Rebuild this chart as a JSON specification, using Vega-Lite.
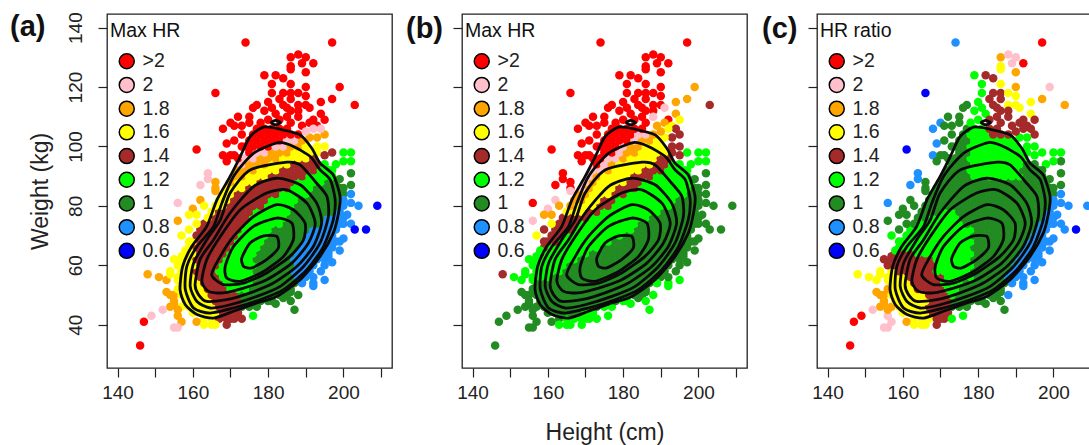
{"$schema":"https://vega.github.io/schema/vega-lite/v6.json","background":"white","padding":{"left":9,"top":11,"right":0,"bottom":0},"bounds":"flush","spacing":70,
"config":{"font":"Liberation Sans","view":{"stroke":"#222","strokeWidth":1.3},
"axis":{"domain":false,"grid":false,"tickColor":"#222","tickSize":9,"tickWidth":1.2,"labelColor":"#222","labelFontSize":19,"labelFont":"Liberation Sans","titleFont":"Liberation Sans","titleFontWeight":"normal","titleFontSize":23,"titleColor":"#222"},
"legend":{"orient":"none","legendX":3,"legendY":8,"padding":0,"titleFontSize":19.5,"titleFontWeight":"normal","titleColor":"#111","labelFontSize":19.5,"labelColor":"#222","titlePadding":10,"rowPadding":1.7,"symbolSize":225,"symbolType":"circle","symbolStrokeColor":"black","symbolStrokeWidth":1.5,"symbolOpacity":1,"symbolOffset":7,"labelOffset":6},
"title":{"font":"Liberation Sans","fontSize":29,"fontWeight":"bold","color":"#111","anchor":"start","frame":"group","baseline":"alphabetic","offset":0}},
"datasets":{"pts":[
{"h":163,"w":42,"a":"1.6","b":"1","c":"1.6"},{"h":165,"w":42,"a":"1.6","b":"1.2","c":"1.6"},{"h":167,"w":42,"a":"1.4","b":"1.2","c":"1.6"},{"h":169,"w":42,"a":"1.4","b":"1.2","c":"1.4"},{"h":171,"w":42,"a":"1.4","b":"1.2","c":"1.4"},
{"h":160,"w":44,"a":"1.6","b":"1","c":"1.6"},{"h":162,"w":44,"a":"1.6","b":"1","c":"1.6"},{"h":164,"w":44,"a":"1.6","b":"1","c":"1.6"},{"h":166,"w":44,"a":"1.6","b":"1","c":"1.6"},{"h":168,"w":44,"a":"1.4","b":"1","c":"1.4"},{"h":170,"w":44,"a":"1.4","b":"1.2","c":"1.4"},{"h":172,"w":44,"a":"1.4","b":"1.2","c":"1.4"},
{"h":157,"w":46,"a":"1.6","b":"1","c":"1.8"},{"h":159,"w":46,"a":"1.6","b":"1","c":"1.6"},{"h":161,"w":46,"a":"1.6","b":"1","c":"1.6"},{"h":163,"w":46,"a":"1.6","b":"1","c":"1.6"},{"h":165,"w":46,"a":"1.6","b":"1","c":"1.6"},{"h":167,"w":46,"a":"1.4","b":"1","c":"1.4"},{"h":169,"w":46,"a":"1.4","b":"1","c":"1.4"},{"h":171,"w":46,"a":"1.4","b":"1","c":"1.4"},{"h":173,"w":46,"a":"1","b":"1","c":"1"},{"h":175,"w":46,"a":"1","b":"1.2","c":"1"},{"h":177,"w":46,"a":"1","b":"1.2","c":"1"},
{"h":158,"w":48,"a":"1.6","b":"1","c":"1.6"},{"h":160,"w":48,"a":"1.6","b":"1","c":"1.6"},{"h":162,"w":48,"a":"1.6","b":"1","c":"1.6"},{"h":164,"w":48,"a":"1.6","b":"1","c":"1.6"},{"h":166,"w":48,"a":"1.4","b":"1","c":"1.6"},{"h":168,"w":48,"a":"1.4","b":"1","c":"1.4"},{"h":170,"w":48,"a":"1.4","b":"1","c":"1.4"},{"h":172,"w":48,"a":"1.4","b":"1","c":"1.4"},{"h":174,"w":48,"a":"1","b":"1","c":"1"},{"h":176,"w":48,"a":"1","b":"1","c":"1"},{"h":178,"w":48,"a":"1","b":"1","c":"1"},{"h":180,"w":48,"a":"1","b":"1.2","c":"1"},
{"h":155,"w":50,"a":"1.8","b":"1","c":"1.8"},{"h":157,"w":50,"a":"1.6","b":"1","c":"1.6"},{"h":159,"w":50,"a":"1.6","b":"1","c":"1.6"},{"h":161,"w":50,"a":"1.6","b":"1","c":"1.6"},{"h":163,"w":50,"a":"1.6","b":"1","c":"1.6"},{"h":165,"w":50,"a":"1.4","b":"1","c":"1.6"},{"h":167,"w":50,"a":"1.4","b":"1","c":"1.4"},{"h":169,"w":50,"a":"1.4","b":"1","c":"1.4"},{"h":171,"w":50,"a":"1.4","b":"1","c":"1.4"},{"h":173,"w":50,"a":"1","b":"1","c":"1.2"},{"h":175,"w":50,"a":"1","b":"1","c":"1"},{"h":177,"w":50,"a":"1","b":"1","c":"1"},{"h":179,"w":50,"a":"1","b":"1","c":"1"},{"h":181,"w":50,"a":"1","b":"1","c":"1"},{"h":183,"w":50,"a":"1","b":"1","c":"1"},{"h":185,"w":50,"a":"1","b":"1","c":"1"},
{"h":156,"w":52,"a":"1.6","b":"1","c":"1.8"},{"h":158,"w":52,"a":"1.6","b":"1","c":"1.6"},{"h":160,"w":52,"a":"1.6","b":"1","c":"1.6"},{"h":162,"w":52,"a":"1.6","b":"1","c":"1.6"},{"h":164,"w":52,"a":"1.4","b":"1","c":"1.4"},{"h":166,"w":52,"a":"1.4","b":"1","c":"1.4"},{"h":168,"w":52,"a":"1.4","b":"1","c":"1.4"},{"h":170,"w":52,"a":"1.2","b":"1","c":"1.4"},{"h":172,"w":52,"a":"1.2","b":"1","c":"1.2"},{"h":174,"w":52,"a":"1.2","b":"1","c":"1.2"},{"h":176,"w":52,"a":"1","b":"1","c":"1"},{"h":178,"w":52,"a":"1","b":"1","c":"1"},{"h":180,"w":52,"a":"1","b":"1","c":"1"},{"h":182,"w":52,"a":"1","b":"1","c":"1"},{"h":184,"w":52,"a":"1","b":"1","c":"1"},{"h":186,"w":52,"a":"1","b":"1","c":"1"},
{"h":157,"w":54,"a":"1.6","b":"1","c":"1.6"},{"h":159,"w":54,"a":"1.6","b":"1","c":"1.6"},{"h":161,"w":54,"a":"1.6","b":"1","c":"1.6"},{"h":163,"w":54,"a":"1.4","b":"1","c":"1.4"},{"h":165,"w":54,"a":"1.4","b":"1","c":"1.4"},{"h":167,"w":54,"a":"1.4","b":"1","c":"1.4"},{"h":169,"w":54,"a":"1.2","b":"1","c":"1.4"},{"h":171,"w":54,"a":"1.2","b":"1","c":"1.2"},{"h":173,"w":54,"a":"1.2","b":"1","c":"1.2"},{"h":175,"w":54,"a":"1.2","b":"1","c":"1.2"},{"h":177,"w":54,"a":"1","b":"1","c":"1"},{"h":179,"w":54,"a":"1","b":"1","c":"1"},{"h":181,"w":54,"a":"1","b":"1","c":"1"},{"h":183,"w":54,"a":"1","b":"1","c":"1"},{"h":185,"w":54,"a":"1","b":"1","c":"1"},{"h":187,"w":54,"a":"1","b":"1","c":"1"},{"h":189,"w":54,"a":"0.8","b":"1","c":"0.8"},
{"h":156,"w":56,"a":"1.6","b":"1.2","c":"1.6"},{"h":158,"w":56,"a":"1.6","b":"1.2","c":"1.6"},{"h":160,"w":56,"a":"1.6","b":"1.2","c":"1.6"},{"h":162,"w":56,"a":"1.4","b":"1","c":"1.4"},{"h":164,"w":56,"a":"1.4","b":"1","c":"1.4"},{"h":166,"w":56,"a":"1.4","b":"1","c":"1.4"},{"h":168,"w":56,"a":"1.2","b":"1","c":"1.4"},{"h":170,"w":56,"a":"1.2","b":"1","c":"1.4"},{"h":172,"w":56,"a":"1.2","b":"1","c":"1.2"},{"h":174,"w":56,"a":"1.2","b":"1","c":"1.2"},{"h":176,"w":56,"a":"1.2","b":"1","c":"1.2"},{"h":178,"w":56,"a":"1","b":"1","c":"1.2"},{"h":180,"w":56,"a":"1","b":"1","c":"1"},{"h":182,"w":56,"a":"1","b":"1","c":"1"},{"h":184,"w":56,"a":"1","b":"1","c":"1"},{"h":186,"w":56,"a":"1","b":"1","c":"1"},{"h":188,"w":56,"a":"0.8","b":"1","c":"0.8"},{"h":190,"w":56,"a":"0.8","b":"1","c":"0.8"},
{"h":157,"w":58,"a":"1.6","b":"1.2","c":"1.6"},{"h":159,"w":58,"a":"1.6","b":"1.2","c":"1.4"},{"h":161,"w":58,"a":"1.4","b":"1.2","c":"1.4"},{"h":163,"w":58,"a":"1.4","b":"1.2","c":"1.4"},{"h":165,"w":58,"a":"1.4","b":"1","c":"1.4"},{"h":167,"w":58,"a":"1.2","b":"1","c":"1.4"},{"h":169,"w":58,"a":"1.2","b":"1","c":"1.2"},{"h":171,"w":58,"a":"1.2","b":"1","c":"1.2"},{"h":173,"w":58,"a":"1.2","b":"1","c":"1.2"},{"h":175,"w":58,"a":"1.2","b":"1","c":"1.2"},{"h":177,"w":58,"a":"1","b":"1","c":"1.2"},{"h":179,"w":58,"a":"1","b":"1","c":"1"},{"h":181,"w":58,"a":"1","b":"1","c":"1"},{"h":183,"w":58,"a":"1","b":"1","c":"1"},{"h":185,"w":58,"a":"1","b":"1","c":"1"},{"h":187,"w":58,"a":"0.8","b":"1","c":"1"},{"h":189,"w":58,"a":"0.8","b":"1","c":"0.8"},{"h":191,"w":58,"a":"0.8","b":"1","c":"0.8"},
{"h":156,"w":60,"a":"1.6","b":"1.2","c":"1.4"},{"h":158,"w":60,"a":"1.6","b":"1.2","c":"1.4"},{"h":160,"w":60,"a":"1.6","b":"1.2","c":"1.4"},{"h":162,"w":60,"a":"1.4","b":"1.2","c":"1.4"},{"h":164,"w":60,"a":"1.4","b":"1.2","c":"1.4"},{"h":166,"w":60,"a":"1.4","b":"1","c":"1.4"},{"h":168,"w":60,"a":"1.2","b":"1","c":"1.4"},{"h":170,"w":60,"a":"1.2","b":"1","c":"1.2"},{"h":172,"w":60,"a":"1.2","b":"1","c":"1.2"},{"h":174,"w":60,"a":"1.2","b":"1","c":"1.2"},{"h":176,"w":60,"a":"1.2","b":"1","c":"1.2"},{"h":178,"w":60,"a":"1","b":"1","c":"1.2"},{"h":180,"w":60,"a":"1","b":"1","c":"1"},{"h":182,"w":60,"a":"1","b":"1","c":"1"},{"h":184,"w":60,"a":"1","b":"1","c":"1"},{"h":186,"w":60,"a":"1","b":"1","c":"1"},{"h":188,"w":60,"a":"0.8","b":"1","c":"1"},{"h":190,"w":60,"a":"0.8","b":"1","c":"0.8"},{"h":192,"w":60,"a":"0.8","b":"1","c":"0.8"},
{"h":157,"w":62,"a":"1.6","b":"1.2","c":"1.4"},{"h":159,"w":62,"a":"1.6","b":"1.2","c":"1.4"},{"h":161,"w":62,"a":"1.4","b":"1.2","c":"1.4"},{"h":163,"w":62,"a":"1.4","b":"1.2","c":"1.4"},{"h":165,"w":62,"a":"1.4","b":"1.2","c":"1.4"},{"h":167,"w":62,"a":"1.4","b":"1.2","c":"1.4"},{"h":169,"w":62,"a":"1.2","b":"1","c":"1.2"},{"h":171,"w":62,"a":"1.2","b":"1","c":"1.2"},{"h":173,"w":62,"a":"1.2","b":"1","c":"1.2"},{"h":175,"w":62,"a":"1.2","b":"1","c":"1.2"},{"h":177,"w":62,"a":"1","b":"1","c":"1.2"},{"h":179,"w":62,"a":"1","b":"1","c":"1"},{"h":181,"w":62,"a":"1","b":"1","c":"1"},{"h":183,"w":62,"a":"1","b":"1","c":"1"},{"h":185,"w":62,"a":"1","b":"1","c":"1"},{"h":187,"w":62,"a":"0.8","b":"1","c":"1"},{"h":189,"w":62,"a":"0.8","b":"1","c":"1"},{"h":191,"w":62,"a":"0.8","b":"1","c":"0.8"},{"h":193,"w":62,"a":"0.8","b":"1","c":"0.8"},{"h":195,"w":62,"a":"0.8","b":"1","c":"0.8"},
{"h":158,"w":64,"a":"1.6","b":"1.4","c":"1.4"},{"h":160,"w":64,"a":"1.6","b":"1.2","c":"1.4"},{"h":162,"w":64,"a":"1.4","b":"1.2","c":"1.4"},{"h":164,"w":64,"a":"1.4","b":"1.2","c":"1.2"},{"h":166,"w":64,"a":"1.4","b":"1.2","c":"1.2"},{"h":168,"w":64,"a":"1.4","b":"1.2","c":"1.2"},{"h":170,"w":64,"a":"1.2","b":"1.2","c":"1.2"},{"h":172,"w":64,"a":"1.2","b":"1","c":"1.2"},{"h":174,"w":64,"a":"1.2","b":"1","c":"1.2"},{"h":176,"w":64,"a":"1.2","b":"1","c":"1.2"},{"h":178,"w":64,"a":"1","b":"1","c":"1.2"},{"h":180,"w":64,"a":"1","b":"1","c":"1"},{"h":182,"w":64,"a":"1","b":"1","c":"1"},{"h":184,"w":64,"a":"1","b":"1","c":"1"},{"h":186,"w":64,"a":"1","b":"1","c":"1"},{"h":188,"w":64,"a":"0.8","b":"1","c":"1"},{"h":190,"w":64,"a":"0.8","b":"1","c":"1"},{"h":192,"w":64,"a":"0.8","b":"1","c":"0.8"},{"h":194,"w":64,"a":"0.8","b":"1","c":"0.8"},{"h":196,"w":64,"a":"0.8","b":"1","c":"0.8"},
{"h":159,"w":66,"a":"1.6","b":"1.4","c":"1.2"},{"h":161,"w":66,"a":"1.4","b":"1.2","c":"1.2"},{"h":163,"w":66,"a":"1.4","b":"1.2","c":"1.2"},{"h":165,"w":66,"a":"1.4","b":"1.2","c":"1.2"},{"h":167,"w":66,"a":"1.4","b":"1.2","c":"1.2"},{"h":169,"w":66,"a":"1.4","b":"1.2","c":"1.2"},{"h":171,"w":66,"a":"1.2","b":"1.2","c":"1.2"},{"h":173,"w":66,"a":"1.2","b":"1.2","c":"1.2"},{"h":175,"w":66,"a":"1.2","b":"1","c":"1.2"},{"h":177,"w":66,"a":"1.2","b":"1","c":"1.2"},{"h":179,"w":66,"a":"1","b":"1","c":"1"},{"h":181,"w":66,"a":"1","b":"1","c":"1"},{"h":183,"w":66,"a":"1","b":"1","c":"1"},{"h":185,"w":66,"a":"1","b":"1","c":"1"},{"h":187,"w":66,"a":"1","b":"1","c":"1"},{"h":189,"w":66,"a":"0.8","b":"1","c":"1"},{"h":191,"w":66,"a":"0.8","b":"1","c":"1"},{"h":193,"w":66,"a":"0.8","b":"1","c":"0.8"},{"h":195,"w":66,"a":"0.8","b":"1","c":"0.8"},{"h":197,"w":66,"a":"0.8","b":"1","c":"0.8"},
{"h":160,"w":68,"a":"1.6","b":"1.4","c":"1.2"},{"h":162,"w":68,"a":"1.4","b":"1.4","c":"1.2"},{"h":164,"w":68,"a":"1.4","b":"1.2","c":"1.2"},{"h":166,"w":68,"a":"1.4","b":"1.2","c":"1.2"},{"h":168,"w":68,"a":"1.4","b":"1.2","c":"1.2"},{"h":170,"w":68,"a":"1.4","b":"1.2","c":"1.2"},{"h":172,"w":68,"a":"1.2","b":"1.2","c":"1.2"},{"h":174,"w":68,"a":"1.2","b":"1.2","c":"1.2"},{"h":176,"w":68,"a":"1.2","b":"1.2","c":"1.2"},{"h":178,"w":68,"a":"1.2","b":"1","c":"1.2"},{"h":180,"w":68,"a":"1","b":"1","c":"1"},{"h":182,"w":68,"a":"1","b":"1","c":"1"},{"h":184,"w":68,"a":"1","b":"1","c":"1"},{"h":186,"w":68,"a":"1","b":"1","c":"1"},{"h":188,"w":68,"a":"1","b":"1","c":"1"},{"h":190,"w":68,"a":"0.8","b":"1","c":"1"},{"h":192,"w":68,"a":"0.8","b":"1","c":"1"},{"h":194,"w":68,"a":"0.8","b":"1","c":"0.8"},{"h":196,"w":68,"a":"0.8","b":"1","c":"0.8"},{"h":198,"w":68,"a":"0.8","b":"1","c":"0.8"},
{"h":161,"w":70,"a":"1.4","b":"1.4","c":"1.2"},{"h":163,"w":70,"a":"1.4","b":"1.4","c":"1.2"},{"h":165,"w":70,"a":"1.4","b":"1.2","c":"1.2"},{"h":167,"w":70,"a":"1.4","b":"1.2","c":"1.2"},{"h":169,"w":70,"a":"1.4","b":"1.2","c":"1.2"},{"h":171,"w":70,"a":"1.4","b":"1.2","c":"1.2"},{"h":173,"w":70,"a":"1.2","b":"1.2","c":"1.2"},{"h":175,"w":70,"a":"1.2","b":"1.2","c":"1.2"},{"h":177,"w":70,"a":"1.2","b":"1.2","c":"1.2"},{"h":179,"w":70,"a":"1.2","b":"1.2","c":"1"},{"h":181,"w":70,"a":"1","b":"1","c":"1"},{"h":183,"w":70,"a":"1","b":"1","c":"1"},{"h":185,"w":70,"a":"1","b":"1","c":"1"},{"h":187,"w":70,"a":"1","b":"1","c":"1"},{"h":189,"w":70,"a":"1","b":"1","c":"1"},{"h":191,"w":70,"a":"0.8","b":"1","c":"1"},{"h":193,"w":70,"a":"0.8","b":"1","c":"1"},{"h":195,"w":70,"a":"0.8","b":"1","c":"0.8"},{"h":197,"w":70,"a":"0.8","b":"1","c":"0.8"},
{"h":162,"w":72,"a":"1.4","b":"1.4","c":"1.2"},{"h":164,"w":72,"a":"1.4","b":"1.4","c":"1.2"},{"h":166,"w":72,"a":"1.4","b":"1.4","c":"1.2"},{"h":168,"w":72,"a":"1.4","b":"1.2","c":"1.2"},{"h":170,"w":72,"a":"1.4","b":"1.2","c":"1.2"},{"h":172,"w":72,"a":"1.4","b":"1.2","c":"1.2"},{"h":174,"w":72,"a":"1.2","b":"1.2","c":"1.2"},{"h":176,"w":72,"a":"1.2","b":"1.2","c":"1.2"},{"h":178,"w":72,"a":"1.2","b":"1.2","c":"1.2"},{"h":180,"w":72,"a":"1.2","b":"1.2","c":"1"},{"h":182,"w":72,"a":"1","b":"1.2","c":"1"},{"h":184,"w":72,"a":"1","b":"1","c":"1"},{"h":186,"w":72,"a":"1","b":"1","c":"1"},{"h":188,"w":72,"a":"1","b":"1","c":"1"},{"h":190,"w":72,"a":"1","b":"1","c":"1"},{"h":192,"w":72,"a":"0.8","b":"1","c":"1"},{"h":194,"w":72,"a":"0.8","b":"1","c":"1"},{"h":196,"w":72,"a":"0.8","b":"1","c":"0.8"},{"h":198,"w":72,"a":"0.8","b":"1","c":"0.8"},
{"h":163,"w":74,"a":"1.4","b":"1.4","c":"1"},{"h":165,"w":74,"a":"1.4","b":"1.4","c":"1.2"},{"h":167,"w":74,"a":"1.4","b":"1.4","c":"1.2"},{"h":169,"w":74,"a":"1.4","b":"1.2","c":"1.2"},{"h":171,"w":74,"a":"1.4","b":"1.2","c":"1.2"},{"h":173,"w":74,"a":"1.4","b":"1.2","c":"1.2"},{"h":175,"w":74,"a":"1.2","b":"1.2","c":"1.2"},{"h":177,"w":74,"a":"1.2","b":"1.2","c":"1"},{"h":179,"w":74,"a":"1.2","b":"1.2","c":"1"},{"h":181,"w":74,"a":"1.2","b":"1.2","c":"1"},{"h":183,"w":74,"a":"1.2","b":"1.2","c":"1"},{"h":185,"w":74,"a":"1","b":"1","c":"1"},{"h":187,"w":74,"a":"1","b":"1","c":"1"},{"h":189,"w":74,"a":"1","b":"1","c":"1"},{"h":191,"w":74,"a":"1","b":"1","c":"1"},{"h":193,"w":74,"a":"1","b":"1","c":"1"},{"h":195,"w":74,"a":"0.8","b":"1","c":"1"},{"h":197,"w":74,"a":"0.8","b":"1","c":"0.8"},{"h":199,"w":74,"a":"0.8","b":"1","c":"0.8"},
{"h":164,"w":76,"a":"1.6","b":"1.4","c":"1"},{"h":166,"w":76,"a":"1.4","b":"1.4","c":"1"},{"h":168,"w":76,"a":"1.4","b":"1.4","c":"1.2"},{"h":170,"w":76,"a":"1.4","b":"1.4","c":"1.2"},{"h":172,"w":76,"a":"1.4","b":"1.2","c":"1.2"},{"h":174,"w":76,"a":"1.4","b":"1.2","c":"1.2"},{"h":176,"w":76,"a":"1.2","b":"1.2","c":"1"},{"h":178,"w":76,"a":"1.2","b":"1.2","c":"1"},{"h":180,"w":76,"a":"1.2","b":"1.2","c":"1"},{"h":182,"w":76,"a":"1.2","b":"1.2","c":"1"},{"h":184,"w":76,"a":"1.2","b":"1.2","c":"1"},{"h":186,"w":76,"a":"1","b":"1.2","c":"1"},{"h":188,"w":76,"a":"1","b":"1","c":"1"},{"h":190,"w":76,"a":"1","b":"1","c":"1"},{"h":192,"w":76,"a":"1","b":"1","c":"1"},{"h":194,"w":76,"a":"1","b":"1","c":"1"},{"h":196,"w":76,"a":"0.8","b":"1","c":"1"},{"h":198,"w":76,"a":"0.8","b":"1","c":"0.8"},{"h":200,"w":76,"a":"0.8","b":"1","c":"0.8"},
{"h":165,"w":78,"a":"1.6","b":"1.6","c":"1"},{"h":167,"w":78,"a":"1.4","b":"1.6","c":"1"},{"h":169,"w":78,"a":"1.4","b":"1.6","c":"1"},{"h":171,"w":78,"a":"1.4","b":"1.4","c":"1.2"},{"h":173,"w":78,"a":"1.4","b":"1.4","c":"1.2"},{"h":175,"w":78,"a":"1.4","b":"1.2","c":"1"},{"h":177,"w":78,"a":"1.2","b":"1.2","c":"1"},{"h":179,"w":78,"a":"1.2","b":"1.2","c":"1"},{"h":181,"w":78,"a":"1.2","b":"1.2","c":"1"},{"h":183,"w":78,"a":"1.2","b":"1.2","c":"1"},{"h":185,"w":78,"a":"1.2","b":"1.2","c":"1"},{"h":187,"w":78,"a":"1","b":"1.2","c":"1"},{"h":189,"w":78,"a":"1","b":"1.2","c":"1"},{"h":191,"w":78,"a":"1","b":"1","c":"1"},{"h":193,"w":78,"a":"1","b":"1","c":"1"},{"h":195,"w":78,"a":"1","b":"1","c":"1"},{"h":197,"w":78,"a":"1","b":"1","c":"1"},{"h":199,"w":78,"a":"0.8","b":"1","c":"0.8"},
{"h":166,"w":80,"a":"1.6","b":"1.8","c":"1"},{"h":168,"w":80,"a":"1.6","b":"1.6","c":"1"},{"h":170,"w":80,"a":"1.4","b":"1.6","c":"1"},{"h":172,"w":80,"a":"1.4","b":"1.6","c":"1"},{"h":174,"w":80,"a":"1.4","b":"1.4","c":"1"},{"h":176,"w":80,"a":"1.4","b":"1.4","c":"1"},{"h":178,"w":80,"a":"1.4","b":"1.2","c":"1"},{"h":180,"w":80,"a":"1.2","b":"1.2","c":"1"},{"h":182,"w":80,"a":"1.2","b":"1.2","c":"1"},{"h":184,"w":80,"a":"1.2","b":"1.2","c":"1"},{"h":186,"w":80,"a":"1.2","b":"1.2","c":"1"},{"h":188,"w":80,"a":"1","b":"1.2","c":"1"},{"h":190,"w":80,"a":"1","b":"1.2","c":"1"},{"h":192,"w":80,"a":"1","b":"1.2","c":"1"},{"h":194,"w":80,"a":"1","b":"1","c":"1"},{"h":196,"w":80,"a":"1","b":"1","c":"1"},{"h":198,"w":80,"a":"1","b":"1","c":"1"},{"h":200,"w":80,"a":"0.8","b":"1","c":"0.8"},
{"h":167,"w":82,"a":"1.6","b":"1.8","c":"1"},{"h":169,"w":82,"a":"1.6","b":"1.8","c":"1"},{"h":171,"w":82,"a":"1.4","b":"1.6","c":"1"},{"h":173,"w":82,"a":"1.4","b":"1.6","c":"1"},{"h":175,"w":82,"a":"1.4","b":"1.4","c":"1"},{"h":177,"w":82,"a":"1.4","b":"1.4","c":"1"},{"h":179,"w":82,"a":"1.4","b":"1.2","c":"1"},{"h":181,"w":82,"a":"1.2","b":"1.2","c":"1"},{"h":183,"w":82,"a":"1.2","b":"1.2","c":"1"},{"h":185,"w":82,"a":"1.2","b":"1.2","c":"1"},{"h":187,"w":82,"a":"1.2","b":"1.2","c":"1"},{"h":189,"w":82,"a":"1","b":"1.2","c":"1"},{"h":191,"w":82,"a":"1","b":"1.2","c":"1"},{"h":193,"w":82,"a":"1","b":"1.2","c":"1"},{"h":195,"w":82,"a":"1","b":"1","c":"1"},{"h":197,"w":82,"a":"1","b":"1","c":"1"},{"h":199,"w":82,"a":"1","b":"1","c":"1"},
{"h":168,"w":84,"a":"1.6","b":"1.8","c":"1"},{"h":170,"w":84,"a":"1.6","b":"1.8","c":"1"},{"h":172,"w":84,"a":"1.4","b":"1.6","c":"1"},{"h":174,"w":84,"a":"1.4","b":"1.6","c":"1"},{"h":176,"w":84,"a":"1.4","b":"1.6","c":"1"},{"h":178,"w":84,"a":"1.4","b":"1.4","c":"1"},{"h":180,"w":84,"a":"1.4","b":"1.4","c":"1"},{"h":182,"w":84,"a":"1.4","b":"1.2","c":"1"},{"h":184,"w":84,"a":"1.2","b":"1.2","c":"1"},{"h":186,"w":84,"a":"1.2","b":"1.2","c":"1"},{"h":188,"w":84,"a":"1.2","b":"1.2","c":"1"},{"h":190,"w":84,"a":"1.2","b":"1.2","c":"1"},{"h":192,"w":84,"a":"1","b":"1.2","c":"1"},{"h":194,"w":84,"a":"1","b":"1.2","c":"1"},{"h":196,"w":84,"a":"1","b":"1.2","c":"1"},{"h":198,"w":84,"a":"1","b":"1","c":"1"},{"h":200,"w":84,"a":"1","b":"1","c":"1"},
{"h":169,"w":86,"a":"1.6","b":"2","c":"1"},{"h":171,"w":86,"a":"1.6","b":"1.8","c":"1"},{"h":173,"w":86,"a":"1.6","b":"1.6","c":"1"},{"h":175,"w":86,"a":"1.4","b":"1.6","c":"1"},{"h":177,"w":86,"a":"1.4","b":"1.6","c":"1"},{"h":179,"w":86,"a":"1.4","b":"1.4","c":"1"},{"h":181,"w":86,"a":"1.4","b":"1.4","c":"1"},{"h":183,"w":86,"a":"1.4","b":"1.4","c":"1"},{"h":185,"w":86,"a":"1.4","b":"1.2","c":"1"},{"h":187,"w":86,"a":"1.2","b":"1.2","c":"1"},{"h":189,"w":86,"a":"1.2","b":"1.2","c":"1"},{"h":191,"w":86,"a":"1.2","b":"1.2","c":"1"},{"h":193,"w":86,"a":"1","b":"1.2","c":"1"},{"h":195,"w":86,"a":"1","b":"1.2","c":"1"},{"h":197,"w":86,"a":"1","b":"1.2","c":"1"},{"h":199,"w":86,"a":"1","b":"1","c":"1"},
{"h":170,"w":88,"a":"1.8","b":"2","c":"1"},{"h":172,"w":88,"a":"1.6","b":"1.8","c":"1"},{"h":174,"w":88,"a":"1.6","b":"1.6","c":"1"},{"h":176,"w":88,"a":"1.6","b":"1.6","c":"1"},{"h":178,"w":88,"a":"1.4","b":"1.6","c":"1"},{"h":180,"w":88,"a":"1.4","b":"1.6","c":"1"},{"h":182,"w":88,"a":"1.4","b":"1.4","c":"1"},{"h":184,"w":88,"a":"1.4","b":"1.4","c":"1"},{"h":186,"w":88,"a":"1.4","b":"1.2","c":"1"},{"h":188,"w":88,"a":"1.2","b":"1.2","c":"1"},{"h":190,"w":88,"a":"1.2","b":"1.2","c":"1"},{"h":192,"w":88,"a":"1.2","b":"1.2","c":"1"},{"h":194,"w":88,"a":"1.2","b":"1.2","c":"1"},{"h":196,"w":88,"a":"1","b":"1.2","c":"1"},{"h":198,"w":88,"a":"1","b":"1.2","c":"1"},
{"h":171,"w":90,"a":"1.8","b":"2","c":"1"},{"h":173,"w":90,"a":"1.8","b":"1.8","c":"1"},{"h":175,"w":90,"a":"1.6","b":"1.6","c":"1"},{"h":177,"w":90,"a":"1.6","b":"1.6","c":"1"},{"h":179,"w":90,"a":"1.6","b":"1.6","c":"1.2"},{"h":181,"w":90,"a":"1.4","b":"1.6","c":"1.2"},{"h":183,"w":90,"a":"1.4","b":"1.4","c":"1.2"},{"h":185,"w":90,"a":"1.4","b":"1.4","c":"1.2"},{"h":187,"w":90,"a":"1.4","b":"1.4","c":"1.2"},{"h":189,"w":90,"a":"1.4","b":"1.2","c":"1.2"},{"h":191,"w":90,"a":"1.2","b":"1.2","c":"1.2"},{"h":193,"w":90,"a":"1.2","b":"1.2","c":"1"},{"h":195,"w":90,"a":"1.2","b":"1.2","c":"1"},{"h":197,"w":90,"a":"1.2","b":"1.2","c":"1"},
{"h":172,"w":92,"a":"1.8","b":"2","c":"1"},{"h":174,"w":92,"a":"1.8","b":"2","c":"1"},{"h":176,"w":92,"a":"1.8","b":"1.8","c":"1"},{"h":178,"w":92,"a":"1.6","b":"1.6","c":"1.2"},{"h":180,"w":92,"a":"1.6","b":"1.6","c":"1.2"},{"h":182,"w":92,"a":"1.6","b":"1.6","c":"1.2"},{"h":184,"w":92,"a":"1.4","b":"1.6","c":"1.2"},{"h":186,"w":92,"a":"1.4","b":"1.4","c":"1.2"},{"h":188,"w":92,"a":"1.4","b":"1.4","c":"1.2"},{"h":190,"w":92,"a":"1.4","b":"1.4","c":"1.2"},{"h":192,"w":92,"a":"1.4","b":"1.2","c":"1"},{"h":194,"w":92,"a":"1.2","b":"1.2","c":"1"},{"h":196,"w":92,"a":"1.2","b":"1.2","c":"1"},
{"h":173,"w":94,"a":"2","b":">2","c":"1"},{"h":175,"w":94,"a":"1.8","b":"2","c":"1"},{"h":177,"w":94,"a":"1.8","b":"1.8","c":"1"},{"h":179,"w":94,"a":"1.8","b":"1.6","c":"1.2"},{"h":181,"w":94,"a":"1.6","b":"1.6","c":"1.2"},{"h":183,"w":94,"a":"1.6","b":"1.6","c":"1.2"},{"h":185,"w":94,"a":"1.6","b":"1.6","c":"1.2"},{"h":187,"w":94,"a":"1.4","b":"1.6","c":"1.2"},{"h":189,"w":94,"a":"1.4","b":"1.4","c":"1.2"},{"h":191,"w":94,"a":"1.4","b":"1.4","c":"1.2"},{"h":193,"w":94,"a":"1.4","b":"1.2","c":"1"},{"h":195,"w":94,"a":"1.2","b":"1.2","c":"1"},
{"h":172,"w":96,"a":">2","b":">2","c":"1"},{"h":174,"w":96,"a":"2","b":">2","c":"1"},{"h":176,"w":96,"a":"2","b":"2","c":"1"},{"h":178,"w":96,"a":"1.8","b":"2","c":"1.2"},{"h":180,"w":96,"a":"1.8","b":"1.8","c":"1.2"},{"h":182,"w":96,"a":"1.8","b":"1.6","c":"1.2"},{"h":184,"w":96,"a":"1.6","b":"1.6","c":"1.2"},{"h":186,"w":96,"a":"1.6","b":"1.6","c":"1.2"},{"h":188,"w":96,"a":"1.6","b":"1.6","c":"1.2"},{"h":190,"w":96,"a":"1.6","b":"1.4","c":"1.2"},{"h":192,"w":96,"a":"1.4","b":"1.4","c":"1.2"},
{"h":175,"w":98,"a":">2","b":">2","c":"1"},{"h":177,"w":98,"a":"2","b":">2","c":"1"},{"h":179,"w":98,"a":"2","b":"2","c":"1.2"},{"h":181,"w":98,"a":"1.8","b":"1.8","c":"1.2"},{"h":183,"w":98,"a":"1.8","b":"1.8","c":"1.2"},{"h":185,"w":98,"a":"1.8","b":"1.6","c":"1.2"},{"h":187,"w":98,"a":"1.6","b":"1.6","c":"1.2"},{"h":189,"w":98,"a":"1.6","b":"1.6","c":"1.2"},{"h":191,"w":98,"a":"1.6","b":"1.6","c":"1.2"},{"h":193,"w":98,"a":"1.6","b":"1.4","c":"1.2"},
{"h":174,"w":100,"a":">2","b":">2","c":"1"},{"h":176,"w":100,"a":">2","b":">2","c":"1"},{"h":178,"w":100,"a":">2","b":">2","c":"1.2"},{"h":180,"w":100,"a":">2","b":"2","c":"1.2"},{"h":182,"w":100,"a":"2","b":"1.8","c":"1.2"},{"h":184,"w":100,"a":"2","b":"1.8","c":"1.2"},{"h":186,"w":100,"a":"1.8","b":"1.6","c":"1.2"},{"h":188,"w":100,"a":"1.8","b":"1.6","c":"1.2"},{"h":190,"w":100,"a":"1.6","b":"1.6","c":"1.2"},
{"h":175,"w":102,"a":">2","b":">2","c":"1"},{"h":177,"w":102,"a":">2","b":">2","c":"1"},{"h":179,"w":102,"a":">2","b":">2","c":"1.2"},{"h":181,"w":102,"a":">2","b":">2","c":"1.2"},{"h":183,"w":102,"a":">2","b":"2","c":"1.2"},{"h":185,"w":102,"a":"2","b":"1.8","c":"1.2"},{"h":187,"w":102,"a":"2","b":"1.8","c":"1.2"},{"h":189,"w":102,"a":"1.8","b":"1.6","c":"1.2"},
{"h":176,"w":104,"a":">2","b":">2","c":"1"},{"h":178,"w":104,"a":">2","b":">2","c":"1.2"},{"h":180,"w":104,"a":">2","b":">2","c":"1.2"},{"h":182,"w":104,"a":">2","b":">2","c":"1.2"},{"h":184,"w":104,"a":">2","b":"2","c":"1.4"},{"h":186,"w":104,"a":">2","b":"2","c":"1.4"},{"h":188,"w":104,"a":">2","b":"1.8","c":"1.4"},
{"h":177,"w":106,"a":">2","b":">2","c":"1"},{"h":179,"w":106,"a":">2","b":">2","c":"1.2"},{"h":181,"w":106,"a":">2","b":">2","c":"1.2"},{"h":183,"w":106,"a":">2","b":">2","c":"1.4"},{"h":185,"w":106,"a":">2","b":">2","c":"1.4"},
{"h":174,"w":135,"a":">2","b":">2","c":"0.8"},{"h":197,"w":135,"a":">2","b":">2","c":">2"},{"h":186,"w":130,"a":">2","b":">2","c":"1.8"},{"h":188,"w":131,"a":">2","b":">2","c":"2"},{"h":190,"w":130,"a":">2","b":">2","c":"2"},{"h":189,"w":128,"a":">2","b":">2","c":"2"},{"h":192,"w":128,"a":">2","b":">2","c":">2"},{"h":186,"w":127,"a":">2","b":">2","c":"1.6"},{"h":186,"w":126,"a":">2","b":">2","c":"1.6"},{"h":190,"w":125,"a":">2","b":">2","c":"1.8"},{"h":179,"w":124,"a":">2","b":">2","c":"1.2"},{"h":182,"w":124,"a":">2","b":">2","c":"1.4"},{"h":184,"w":123,"a":">2","b":">2","c":"1.4"},{"h":181,"w":121,"a":">2","b":">2","c":"1.2"},{"h":186,"w":121,"a":">2","b":">2","c":"1.6"},{"h":190,"w":120,"a":">2","b":">2","c":"1.8"},{"h":199,"w":120,"a":">2","b":"1.8","c":"2"},{"h":166,"w":118,"a":">2","b":">2","c":"0.6"},{"h":181,"w":118,"a":">2","b":">2","c":"1.2"},{"h":184,"w":118,"a":">2","b":">2","c":"1.4"},{"h":186,"w":118,"a":">2","b":">2","c":"1.4"},{"h":188,"w":118,"a":">2","b":">2","c":"1.6"},{"h":190,"w":117,"a":">2","b":">2","c":"1.6"},{"h":197,"w":116,"a":">2","b":"1.8","c":"1.8"},{"h":194,"w":115,"a":">2","b":"1.8","c":"1.6"},{"h":183,"w":116,"a":">2","b":">2","c":"1.4"},{"h":186,"w":116,"a":">2","b":">2","c":"1.4"},{"h":180,"w":115,"a":">2","b":">2","c":"1.2"},{"h":184,"w":114,"a":">2","b":">2","c":"1.4"},{"h":188,"w":114,"a":">2","b":">2","c":"1.6"},{"h":190,"w":114,"a":">2","b":">2","c":"1.6"},{"h":203,"w":114,"a":">2","b":"1.4","c":"1.8"},{"h":177,"w":114,"a":">2","b":">2","c":"1"},{"h":176,"w":113,"a":">2","b":">2","c":"1"},{"h":181,"w":113,"a":">2","b":">2","c":"1.2"},{"h":186,"w":112,"a":">2","b":">2","c":"1.4"},{"h":185,"w":113,"a":">2","b":">2","c":"1.4"},{"h":188,"w":112,"a":">2","b":">2","c":"1.4"},{"h":191,"w":113,"a":">2","b":"2","c":"1.6"},{"h":179,"w":112,"a":">2","b":">2","c":"1.2"},{"h":182,"w":111,"a":">2","b":">2","c":"1.2"},{"h":185,"w":110,"a":">2","b":">2","c":"1.4"},{"h":188,"w":110,"a":">2","b":"2","c":"1.4"},{"h":194,"w":111,"a":">2","b":"1.8","c":"1.6"},{"h":192,"w":109,"a":">2","b":">2","c":"1.4"},{"h":172,"w":110,"a":">2","b":">2","c":"1"},{"h":175,"w":110,"a":">2","b":">2","c":"1"},{"h":168,"w":106,"a":">2","b":">2","c":"0.8"},{"h":170,"w":108,"a":">2","b":">2","c":"0.8"},{"h":171,"w":107,"a":">2","b":">2","c":"1"},{"h":173,"w":107,"a":">2","b":">2","c":"1"},{"h":175,"w":108,"a":">2","b":">2","c":"1"},{"h":178,"w":108,"a":">2","b":">2","c":"1.2"},{"h":180,"w":109,"a":">2","b":">2","c":"1.2"},{"h":183,"w":109,"a":">2","b":">2","c":"1.4"},{"h":186,"w":108,"a":">2","b":">2","c":"1.4"},{"h":189,"w":107,"a":">2","b":"1.8","c":"1.4"},{"h":191,"w":108,"a":">2","b":"1.8","c":"1.4"},{"h":193,"w":107,"a":">2","b":"1.6","c":"1.4"},{"h":195,"w":109,"a":">2","b":"1.6","c":"1.4"},{"h":169,"w":101,"a":">2","b":">2","c":"0.8"},{"h":171,"w":102,"a":">2","b":">2","c":"1"},{"h":161,"w":99,"a":">2","b":">2","c":"0.6"},{"h":168,"w":97,"a":">2","b":">2","c":"0.8"},{"h":170,"w":97,"a":">2","b":">2","c":"1"},{"h":169,"w":95,"a":">2","b":">2","c":"1"},{"h":171,"w":97,"a":">2","b":">2","c":"1"},{"h":173,"w":100,"a":">2","b":">2","c":"1"},{"h":173,"w":104,"a":">2","b":">2","c":"1"},
{"h":164,"w":91,"a":"2","b":">2","c":"0.8"},{"h":164,"w":89,"a":"2","b":">2","c":"0.8"},{"h":162,"w":87,"a":"2","b":">2","c":"0.8"},{"h":166,"w":88,"a":"1.8","b":">2","c":"1"},{"h":166,"w":86,"a":"1.8","b":">2","c":"1"},{"h":166,"w":85,"a":"1.8","b":"2","c":"1"},{"h":162,"w":82,"a":"1.8","b":"2","c":"1"},{"h":160,"w":79,"a":"1.8","b":"2","c":"1"},{"h":156,"w":81,"a":"2","b":">2","c":"0.8"},{"h":161,"w":77,"a":"1.6","b":"1.8","c":"1"},{"h":159,"w":77,"a":"1.6","b":"1.8","c":"1"},{"h":163,"w":80,"a":"1.6","b":"1.8","c":"1"},{"h":161,"w":74,"a":"1.6","b":"1.6","c":"1"},{"h":156,"w":75,"a":"1.8","b":"2","c":"1"},{"h":157,"w":70,"a":"1.6","b":"1.6","c":"1.2"},{"h":159,"w":72,"a":"1.6","b":"1.4","c":"1"},{"h":159,"w":68,"a":"1.6","b":"1.4","c":"1.2"},{"h":157,"w":63,"a":"1.6","b":"1.2","c":"1.4"},{"h":158,"w":65,"a":"1.6","b":"1.2","c":"1.2"},{"h":155,"w":62,"a":"1.6","b":"1.2","c":"1.4"},{"h":154,"w":58,"a":"1.6","b":"1.2","c":"1.6"},{"h":148,"w":57,"a":"1.8","b":"1.4","c":"1.6"},{"h":151,"w":56,"a":"1.8","b":"1.2","c":"1.6"},{"h":153,"w":55,"a":"1.8","b":"1.2","c":"1.6"},{"h":154,"w":57,"a":"1.6","b":"1.2","c":"1.6"},{"h":156,"w":55,"a":"1.6","b":"1.2","c":"1.6"},{"h":153,"w":51,"a":"1.8","b":"1","c":"1.8"},{"h":154,"w":50,"a":"1.8","b":"1","c":"1.8"},{"h":155,"w":47,"a":"1.8","b":"1","c":"1.8"},{"h":154,"w":46,"a":"1.8","b":"1","c":"1.8"},{"h":152,"w":45,"a":"2","b":"1","c":"2"},{"h":156,"w":43,"a":"1.8","b":"1","c":"2"},{"h":157,"w":41,"a":"1.8","b":"1","c":"2"},{"h":155,"w":39,"a":"2","b":"1","c":"2"},{"h":156,"w":39,"a":"2","b":"1","c":"2"},{"h":161,"w":41,"a":"1.8","b":"1","c":"1.8"},{"h":163,"w":40,"a":"1.6","b":"1.2","c":"1.6"},{"h":165,"w":40,"a":"1.6","b":"1.2","c":"1.6"},{"h":166,"w":40,"a":"1.6","b":"1.2","c":"1.6"},{"h":169,"w":40,"a":"1.4","b":"1.2","c":"1.4"},{"h":170,"w":42,"a":"1.4","b":"1.2","c":"1.4"},{"h":173,"w":42,"a":"1.4","b":"1.2","c":"1.2"},{"h":176,"w":43,"a":"1.2","b":"1.2","c":"1.2"},{"h":149,"w":43,"a":"2","b":"1","c":">2"},{"h":147,"w":41,"a":">2","b":"1","c":">2"},{"h":146,"w":33,"a":">2","b":"1","c":">2"},{"h":156,"w":45,"a":"1.8","b":"1","c":"1.8"},{"h":155,"w":48,"a":"1.8","b":"1","c":"1.8"},
{"h":182,"w":47,"a":"1","b":"1.2","c":"1"},{"h":186,"w":48,"a":"1","b":"1.2","c":"1"},{"h":188,"w":50,"a":"1","b":"1.2","c":"0.8"},{"h":187,"w":45,"a":"1","b":"1.2","c":"1"},{"h":181,"w":48,"a":"1","b":"1.2","c":"1"},{"h":184,"w":49,"a":"1","b":"1","c":"1"},{"h":186,"w":51,"a":"1","b":"1","c":"1"},{"h":189,"w":54,"a":"0.8","b":"1.2","c":"0.8"},{"h":192,"w":54,"a":"0.8","b":"1.2","c":"0.8"},{"h":195,"w":55,"a":"0.8","b":"1.2","c":"0.8"},{"h":192,"w":53,"a":"0.8","b":"1.2","c":"0.8"},{"h":192,"w":56,"a":"0.8","b":"1","c":"0.8"},{"h":194,"w":58,"a":"0.8","b":"1","c":"0.8"},{"h":195,"w":60,"a":"0.8","b":"1","c":"0.8"},{"h":197,"w":61,"a":"0.8","b":"1","c":"0.8"},{"h":196,"w":63,"a":"0.8","b":"1","c":"0.8"},{"h":199,"w":65,"a":"0.8","b":"1","c":"0.8"},{"h":200,"w":69,"a":"0.8","b":"1","c":"0.8"},{"h":199,"w":68,"a":"0.8","b":"1","c":"0.8"},{"h":200,"w":74,"a":"0.8","b":"1","c":"0.8"},{"h":202,"w":74,"a":"0.8","b":"1","c":"0.8"},{"h":203,"w":72,"a":"0.6","b":"1","c":"0.8"},{"h":206,"w":72,"a":"0.6","b":"1","c":"0.6"},{"h":209,"w":80,"a":"0.6","b":"1","c":"0.8"},{"h":204,"w":80,"a":"0.8","b":"1","c":"0.8"},{"h":202,"w":81,"a":"0.8","b":"1","c":"0.8"},{"h":202,"w":84,"a":"0.8","b":"1","c":"0.8"},{"h":201,"w":77,"a":"0.8","b":"1","c":"0.8"},{"h":200,"w":82,"a":"0.8","b":"1","c":"0.8"},{"h":202,"w":91,"a":"1","b":"1","c":"1"},{"h":202,"w":87,"a":"1","b":"1","c":"1"},{"h":200,"w":86,"a":"1","b":"1","c":"1"},{"h":199,"w":89,"a":"1","b":"1","c":"1"},{"h":202,"w":95,"a":"1.2","b":"1.2","c":"1"},{"h":202,"w":98,"a":"1.2","b":"1.2","c":"1.2"},{"h":200,"w":98,"a":"1.2","b":"1.2","c":"1.2"},{"h":200,"w":95,"a":"1.2","b":"1.2","c":"1.2"},{"h":198,"w":94,"a":"1.2","b":"1.2","c":"1.2"},{"h":197,"w":92,"a":"1.2","b":"1.2","c":"1"},{"h":197,"w":98,"a":"1.4","b":"1.2","c":"1.2"},{"h":195,"w":97,"a":"1.4","b":"1.4","c":"1.2"},{"h":193,"w":100,"a":"1.6","b":"1.4","c":"1.2"},{"h":195,"w":100,"a":"1.6","b":"1.4","c":"1.2"},{"h":195,"w":104,"a":"1.8","b":"1.4","c":"1.4"},{"h":193,"w":103,"a":"1.8","b":"1.4","c":"1.2"},{"h":191,"w":103,"a":"1.8","b":"1.6","c":"1.2"},{"h":194,"w":106,"a":"2","b":"1.4","c":"1.4"},{"h":192,"w":106,"a":"2","b":"1.6","c":"1.4"},{"h":190,"w":105,"a":"2","b":"1.8","c":"1.4"}
],
"cont":[
{"k":1,"i":1,"h":156.6,"w":51.8},{"k":1,"i":2,"h":157.3,"w":59.6},{"k":1,"i":3,"h":159.7,"w":66.3},{"k":1,"i":4,"h":163.7,"w":73.1},{"k":1,"i":5,"h":166.4,"w":82},{"k":1,"i":6,"h":169.9,"w":89.9},{"k":1,"i":7,"h":172.6,"w":96.6},{"k":1,"i":8,"h":175.2,"w":103.3},{"k":1,"i":9,"h":178.8,"w":106.5},{"k":1,"i":10,"h":183.2,"w":105.8},{"k":1,"i":11,"h":188.5,"w":103.9},{"k":1,"i":12,"h":191.6,"w":99.4},{"k":1,"i":13,"h":193.8,"w":94.4},{"k":1,"i":14,"h":197.3,"w":90.4},{"k":1,"i":15,"h":199.1,"w":83.2},{"k":1,"i":16,"h":198.7,"w":77.6},{"k":1,"i":17,"h":197.3,"w":70.8},{"k":1,"i":18,"h":193.8,"w":63},{"k":1,"i":19,"h":188.5,"w":55.1},{"k":1,"i":20,"h":182.3,"w":49.5},{"k":1,"i":21,"h":177,"w":47.3},{"k":1,"i":22,"h":170.8,"w":44.5},{"k":1,"i":23,"h":165.5,"w":42.2},{"k":1,"i":24,"h":161.1,"w":43.4},{"k":1,"i":25,"h":158,"w":46.7},
{"k":2,"i":1,"h":158,"w":51.8},{"k":2,"i":2,"h":158.4,"w":59.6},{"k":2,"i":3,"h":161.1,"w":66.3},{"k":2,"i":4,"h":165.5,"w":73.1},{"k":2,"i":5,"h":167.7,"w":80.9},{"k":2,"i":6,"h":170.8,"w":89.9},{"k":2,"i":7,"h":176.1,"w":97.7},{"k":2,"i":8,"h":182.7,"w":101.3},{"k":2,"i":9,"h":186.7,"w":100},{"k":2,"i":10,"h":191.2,"w":96.6},{"k":2,"i":11,"h":193.8,"w":92.1},{"k":2,"i":12,"h":196.5,"w":88.8},{"k":2,"i":13,"h":197.8,"w":82},{"k":2,"i":14,"h":197.3,"w":75.3},{"k":2,"i":15,"h":194.7,"w":66.3},{"k":2,"i":16,"h":190.3,"w":58.5},{"k":2,"i":17,"h":184.1,"w":51.8},{"k":2,"i":18,"h":177.9,"w":48.4},{"k":2,"i":19,"h":170.8,"w":45.6},{"k":2,"i":20,"h":164.6,"w":43.9},{"k":2,"i":21,"h":160.2,"w":45.6},
{"k":3,"i":1,"h":159.3,"w":52.9},{"k":3,"i":2,"h":160.2,"w":60.7},{"k":3,"i":3,"h":163.7,"w":68.6},{"k":3,"i":4,"h":167.3,"w":75.3},{"k":3,"i":5,"h":169.9,"w":84.3},{"k":3,"i":6,"h":175.2,"w":92.1},{"k":3,"i":7,"h":185,"w":94.7},{"k":3,"i":8,"h":188.5,"w":93.8},{"k":3,"i":9,"h":192.5,"w":88.2},{"k":3,"i":10,"h":195.6,"w":83.2},{"k":3,"i":11,"h":196,"w":76.4},{"k":3,"i":12,"h":193.8,"w":67.5},{"k":3,"i":13,"h":189.4,"w":59.6},{"k":3,"i":14,"h":183.2,"w":52.9},{"k":3,"i":15,"h":177,"w":49.5},{"k":3,"i":16,"h":169.9,"w":46.7},{"k":3,"i":17,"h":164.6,"w":45.6},{"k":3,"i":18,"h":161.1,"w":47.8},
{"k":4,"i":1,"h":160.6,"w":53.5},{"k":4,"i":2,"h":161.9,"w":61.9},{"k":4,"i":3,"h":165.5,"w":68.6},{"k":4,"i":4,"h":169.9,"w":77.6},{"k":4,"i":5,"h":176.1,"w":86.5},{"k":4,"i":6,"h":182.3,"w":89.3},{"k":4,"i":7,"h":188.5,"w":87.1},{"k":4,"i":8,"h":192.9,"w":80.9},{"k":4,"i":9,"h":194.2,"w":74.2},{"k":4,"i":10,"h":192,"w":66.3},{"k":4,"i":11,"h":187.6,"w":59.6},{"k":4,"i":12,"h":181.4,"w":54},{"k":4,"i":13,"h":175.2,"w":50.7},{"k":4,"i":14,"h":169,"w":48.4},{"k":4,"i":15,"h":163.7,"w":47.8},{"k":4,"i":16,"h":161.5,"w":50.1},
{"k":5,"i":1,"h":162.4,"w":54.6},{"k":5,"i":2,"h":163.7,"w":61.9},{"k":5,"i":3,"h":167.3,"w":69.7},{"k":5,"i":4,"h":172.6,"w":78.7},{"k":5,"i":5,"h":179.6,"w":84.3},{"k":5,"i":6,"h":185,"w":85.4},{"k":5,"i":7,"h":190.3,"w":80.9},{"k":5,"i":8,"h":192.5,"w":74.2},{"k":5,"i":9,"h":190.7,"w":67.5},{"k":5,"i":10,"h":186.3,"w":60.7},{"k":5,"i":11,"h":179.6,"w":55.1},{"k":5,"i":12,"h":173.5,"w":52.3},{"k":5,"i":13,"h":168.1,"w":50.7},{"k":5,"i":14,"h":164.2,"w":51.2},
{"k":6,"i":1,"h":165,"w":56.8},{"k":6,"i":2,"h":167.3,"w":63},{"k":6,"i":3,"h":170.8,"w":69.7},{"k":6,"i":4,"h":176.1,"w":76.4},{"k":6,"i":5,"h":182.3,"w":80.4},{"k":6,"i":6,"h":186.7,"w":78.7},{"k":6,"i":7,"h":189.8,"w":74.2},{"k":6,"i":8,"h":189.4,"w":68.6},{"k":6,"i":9,"h":185.8,"w":63},{"k":6,"i":10,"h":179.6,"w":57.4},{"k":6,"i":11,"h":173.5,"w":54},{"k":6,"i":12,"h":168.1,"w":53.5},
{"k":7,"i":1,"h":168.6,"w":59.6},{"k":7,"i":2,"h":170.8,"w":66.3},{"k":7,"i":3,"h":176.1,"w":73.1},{"k":7,"i":4,"h":182.3,"w":75.9},{"k":7,"i":5,"h":186.3,"w":74.2},{"k":7,"i":6,"h":186.7,"w":68.6},{"k":7,"i":7,"h":184.1,"w":63},{"k":7,"i":8,"h":178.8,"w":57.9},{"k":7,"i":9,"h":172.6,"w":54.6},{"k":7,"i":10,"h":169,"w":55.7},
{"k":8,"i":1,"h":173,"w":62.4},{"k":8,"i":2,"h":175.2,"w":67.5},{"k":8,"i":3,"h":178.8,"w":69.9},{"k":8,"i":4,"h":182.3,"w":69.7},{"k":8,"i":5,"h":182.7,"w":65.8},{"k":8,"i":6,"h":179.6,"w":61.9},{"k":8,"i":7,"h":175.7,"w":59.1},{"k":8,"i":8,"h":173.5,"w":59.6},
{"k":9,"i":1,"h":180.8,"w":108},{"k":9,"i":2,"h":182,"w":108.8},{"k":9,"i":3,"h":183.3,"w":108},{"k":9,"i":4,"h":182,"w":107.3}
]},
"hconcat":[
{"width":285,"height":354,"title":{"text":"(a)","dx":-97,"dy":34},"data":{"name":"pts"},
"encoding":{"x":{"field":"h","type":"quantitative","scale":{"domain":[137.2,212.9],"nice":false,"zero":false},"axis":{"values":[140,150,160,170,180,190,200,210],"labelExpr":"datum.value%20==0?datum.label:''","labelPadding":6,"title":null}},
"y":{"field":"w","type":"quantitative","scale":{"domain":[25.4,144.6],"nice":false,"zero":false},"axis":{"values":[40,60,80,100,120,140],"labelAngle":-90,"labelAlign":"center","labelBaseline":"bottom","labelPadding":13,"title":"Weight (kg)","titlePadding":14}}},
"layer":[{"mark":{"type":"circle","size":72,"opacity":1},"encoding":{"color":{"field":"a","type":"ordinal","scale":{"domain":[">2","2","1.8","1.6","1.4","1.2","1","0.8","0.6"],"range":["#FF0000","#FFC0CB","#FFA500","#FFFF00","#A52A2A","#00FF00","#228B22","#1E90FF","#0000FF"]},"legend":{"title":"Max HR","encode":{"symbols":{"update":{"stroke":{"value":"black"},"strokeWidth":{"value":1.5}}}}}}}},
{"data":{"name":"cont"},"mark":{"type":"line","interpolate":"cardinal-closed","tension":0.3,"color":"#0a0a0a","strokeWidth":2.8},"encoding":{"detail":{"field":"k"},"order":{"field":"i","type":"quantitative"}}}]},
{"width":285,"height":354,"title":{"text":"(b)","dx":-56,"dy":34},"data":{"name":"pts"},
"encoding":{"x":{"field":"h","type":"quantitative","scale":{"domain":[137.2,212.9],"nice":false,"zero":false},"axis":{"values":[140,150,160,170,180,190,200,210],"labelExpr":"datum.value%20==0?datum.label:''","labelPadding":6,"title":"Height (cm)","titlePadding":19}},
"y":{"field":"w","type":"quantitative","scale":{"domain":[25.4,144.6],"nice":false,"zero":false},"axis":{"values":[40,60,80,100,120,140],"labels":false,"title":null}}},
"layer":[{"mark":{"type":"circle","size":72,"opacity":1},"encoding":{"color":{"field":"b","type":"ordinal","scale":{"domain":[">2","2","1.8","1.6","1.4","1.2","1","0.8","0.6"],"range":["#FF0000","#FFC0CB","#FFA500","#FFFF00","#A52A2A","#00FF00","#228B22","#1E90FF","#0000FF"]},"legend":{"title":"Max HR","encode":{"symbols":{"update":{"stroke":{"value":"black"},"strokeWidth":{"value":1.5}}}}}}}},
{"data":{"name":"cont"},"mark":{"type":"line","interpolate":"cardinal-closed","tension":0.3,"color":"#0a0a0a","strokeWidth":2.8},"encoding":{"detail":{"field":"k"},"order":{"field":"i","type":"quantitative"}}}]},
{"width":285,"height":354,"title":{"text":"(c)","dx":-55,"dy":34},"data":{"name":"pts"},
"encoding":{"x":{"field":"h","type":"quantitative","scale":{"domain":[137.2,212.9],"nice":false,"zero":false},"axis":{"values":[140,150,160,170,180,190,200,210],"labelExpr":"datum.value%20==0?datum.label:''","labelPadding":6,"title":null}},
"y":{"field":"w","type":"quantitative","scale":{"domain":[25.4,144.6],"nice":false,"zero":false},"axis":{"values":[40,60,80,100,120,140],"labels":false,"title":null}}},
"layer":[{"mark":{"type":"circle","size":72,"opacity":1},"encoding":{"color":{"field":"c","type":"ordinal","scale":{"domain":[">2","2","1.8","1.6","1.4","1.2","1","0.8","0.6"],"range":["#FF0000","#FFC0CB","#FFA500","#FFFF00","#A52A2A","#00FF00","#228B22","#1E90FF","#0000FF"]},"legend":{"title":"HR ratio","encode":{"symbols":{"update":{"stroke":{"value":"black"},"strokeWidth":{"value":1.5}}}}}}}},
{"data":{"name":"cont"},"mark":{"type":"line","interpolate":"cardinal-closed","tension":0.3,"color":"#0a0a0a","strokeWidth":2.8},"encoding":{"detail":{"field":"k"},"order":{"field":"i","type":"quantitative"}}}]}
],
"resolve":{"scale":{"color":"independent"},"legend":{"color":"independent"}}}
